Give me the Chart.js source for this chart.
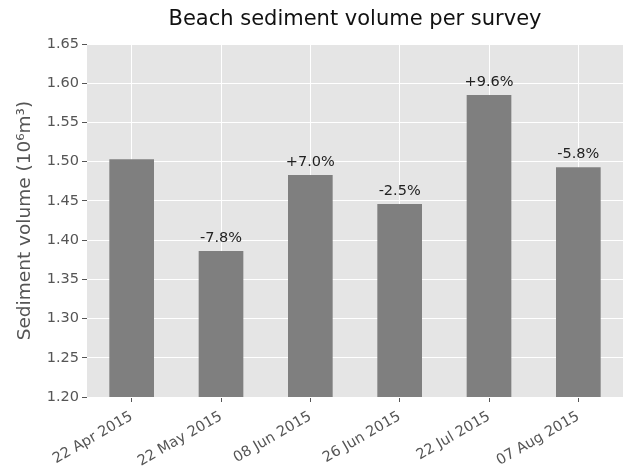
<!DOCTYPE html>
<html lang="en">
<head>
    <meta charset="UTF-8">
    <title>Beach sediment volume per survey</title>
    <script src="https://cdn.jsdelivr.net/npm/chart.js@4.4.0/dist/chart.umd.min.js"></script>
    <style>
        body { margin: 0; background: #fff; }
        #wrap { width: 629px; height: 470px; }
    </style>
</head>
<body>
    <div id="wrap"><canvas id="myChart"></canvas></div>

    <script>
        // survey dates and volumes (10^6 m^3)
        var surveyDates = ["22 Apr 2015", "22 May 2015", "08 Jun 2015", "26 Jun 2015", "22 Jul 2015", "07 Aug 2015"];
        var volumes = [1.503, 1.386, 1.483, 1.446, 1.585, 1.493];
        var changeLabels = ["", "-7.8%", "+7.0%", "-2.5%", "+9.6%", "-5.8%"];

        var fontFamily = "'DejaVu Sans', sans-serif";
        var titleText = "Beach sediment volume per survey";

        // grey panel behind the plot and the title centred over it
        var panelBg = {
            id: 'panelBg',
            beforeDraw: function (chart) {
                var a = chart.chartArea;
                var ctx = chart.ctx;
                ctx.save();
                ctx.fillStyle = '#e5e5e5';
                ctx.fillRect(a.left, a.top, a.right - a.left, a.bottom - a.top);
                ctx.font = "21px " + fontFamily;
                ctx.fillStyle = '#111';
                ctx.textAlign = 'center';
                ctx.textBaseline = 'middle';
                ctx.fillText(titleText, (a.left + a.right) / 2, 20);
                ctx.restore();
            }
        };

        // percentage change written above each bar
        var barLabels = {
            id: 'barLabels',
            afterDatasetsDraw: function (chart) {
                var ctx = chart.ctx;
                var bars = chart.getDatasetMeta(0).data;
                ctx.save();
                ctx.font = "14.5px " + fontFamily;
                ctx.fillStyle = '#222';
                ctx.textAlign = 'center';
                ctx.textBaseline = 'alphabetic';
                bars.forEach(function (bar, i) {
                    if (changeLabels[i]) ctx.fillText(changeLabels[i], bar.x, bar.y - 9);
                });
                ctx.restore();
            }
        };

        var myChart = new Chart("myChart", {
            type: "bar",
            data: {
                labels: surveyDates,
                datasets: [{
                    data: volumes,
                    backgroundColor: '#7f7f7f',
                    borderWidth: 0,
                    barPercentage: 0.5,
                    categoryPercentage: 1.0
                }]
            },
            options: {
                responsive: true,
                maintainAspectRatio: false,
                animation: false,
                layout: { padding: { left: 0, right: 6, top: 44, bottom: 0 } },
                plugins: {
                    legend: { display: false },
                    tooltip: { enabled: false },
                    title: { display: false }
                },
                scales: {
                    x: {
                        afterFit: function (scale) { scale.height = 73; },
                        grid: {
                            offset: false,
                            color: '#ffffff',
                            lineWidth: 1,
                            tickColor: '#555',
                            tickLength: 5
                        },
                        border: { display: false },
                        ticks: {
                            color: '#555',
                            font: { family: fontFamily, size: 14.5 },
                            minRotation: 30,
                            maxRotation: 30,
                            padding: 6
                        }
                    },
                    y: {
                        min: 1.2,
                        max: 1.65,
                        afterFit: function (scale) { scale.width = 87; },
                        grid: {
                            color: '#ffffff',
                            lineWidth: 1,
                            tickColor: '#555',
                            tickLength: 5
                        },
                        border: { display: false },
                        ticks: {
                            stepSize: 0.05,
                            color: '#555',
                            font: { family: fontFamily, size: 14.5 },
                            padding: 3,
                            callback: function (v) { return Number(v).toFixed(2); }
                        },
                        title: {
                            display: true,
                            text: "Sediment volume (10⁶m³)",
                            color: '#555',
                            font: { family: fontFamily, size: 18.5 },
                            padding: { top: 14, bottom: 0 }
                        }
                    }
                }
            },
            plugins: [panelBg, barLabels]
        });
    </script>
</body>
</html>
